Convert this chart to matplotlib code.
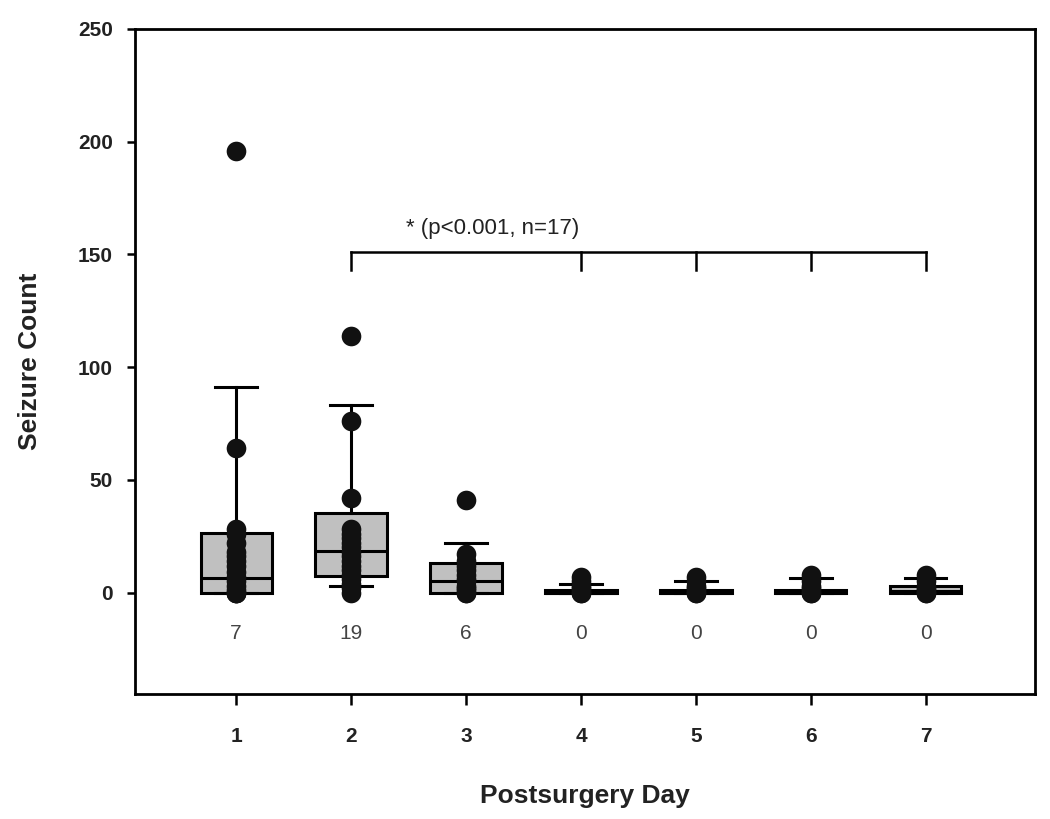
import matplotlib
matplotlib.use("Agg")
import matplotlib.pyplot as plt

plt.rcParams['font.family'] = ['Liberation Sans', 'DejaVu Sans']

# postsurgery days
days = [1, 2, 3, 4, 5, 6, 7]

# box statistics
q1 = [0, 7.5, 0, 0, 0, 0, 0]
median = [6.5, 18.5, 5.3, 0, 0, 0, 0.5]
q3 = [26.5, 35.5, 13.3, 1, 1, 1, 2.7]
whisker_lo = [0, 2.7, 0, 0, 0, 0, 0]
whisker_hi = [91, 83, 22, 4, 5.3, 6.6, 6.6]

# individual seizure counts per day
points = [
    [196, 64, 28, 26, 22, 18, 16, 14, 12, 9, 7, 5, 3, 1, 0, 0, 0],
    [114, 76, 42, 28, 26, 24, 22, 20, 18, 16, 14, 12, 10, 8, 6, 4, 2, 0],
    [41, 17, 14, 12, 10, 8, 6, 5, 3, 2, 1, 0, 0],
    [7, 5, 3, 2, 1, 0, 0],
    [7, 5, 3, 2, 1, 0, 0],
    [8, 5, 3, 2, 1, 0, 0],
    [8, 5, 3, 2, 1, 0, 0],
]

# numbers printed below each box
counts = ['7', '19', '6', '0', '0', '0', '0']

# significance bracket
bracket_days = [2, 4, 5, 6, 7]
bracket_y = 151
bracket_drop = 8
bracket_text = '* (p<0.001, n=17)'

fig = plt.figure(figsize=(10.5, 8.19), dpi=100)
ax = fig.add_axes([135 / 1050, 1 - 694 / 819, 900 / 1050, 665 / 819])

stats = []
for i in range(len(days)):
    stats.append({
        'med': median[i], 'q1': q1[i], 'q3': q3[i],
        'whislo': whisker_lo[i], 'whishi': whisker_hi[i], 'fliers': [],
    })

lw = 2.2
ax.bxp(stats, positions=days, widths=0.62, patch_artist=True,
       showfliers=False,
       boxprops=dict(facecolor='#c0c0c0', edgecolor='black', linewidth=lw),
       medianprops=dict(color='black', linewidth=lw),
       whiskerprops=dict(color='black', linewidth=lw),
       capprops=dict(color='black', linewidth=lw),
       capwidths=0.36)

for d, vals in zip(days, points):
    ax.scatter([d] * len(vals), vals, s=200, color='#111111', zorder=3,
               linewidths=0)

for d, c in zip(days, counts):
    ax.text(d, -18, c, ha='center', va='center', fontsize=15, color='#444444')

# bracket
ax.plot([bracket_days[0], bracket_days[-1]], [bracket_y, bracket_y],
        color='black', lw=1.8)
for d in bracket_days:
    ax.plot([d, d], [bracket_y, bracket_y - bracket_drop], color='black', lw=1.8)
ax.text(2.48, 161.5, bracket_text, ha='left', va='center', fontsize=16,
        color='#222222')

ax.set_xlim(0.12, 7.95)
ax.set_ylim(-45, 250)
ax.set_xticks(days)
ax.set_yticks([0, 50, 100, 150, 200, 250])

for s in ax.spines.values():
    s.set_linewidth(2)

ax.tick_params(axis='x', length=8, width=1.8, pad=16, labelsize=15)
ax.tick_params(axis='y', length=6, width=1.8, pad=10, labelsize=15)
for lab in ax.get_xticklabels() + ax.get_yticklabels():
    lab.set_fontweight('bold')
    lab.set_color('#222222')

ax.set_xlabel('Postsurgery Day', fontsize=19, fontweight='bold', labelpad=27,
              color='#222222')
ax.set_ylabel('Seizure Count', fontsize=19, fontweight='bold', labelpad=26,
              color='#222222')

fig.savefig('out.png', dpi=100)
